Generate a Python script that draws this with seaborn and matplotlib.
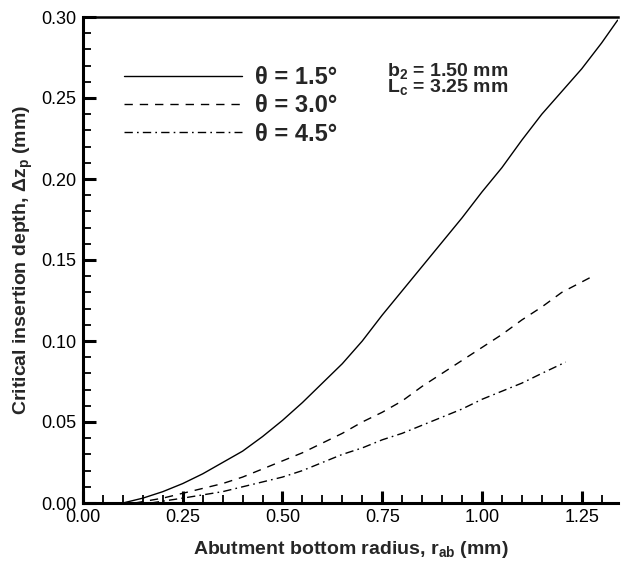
import numpy as np
import pandas as pd
import matplotlib
matplotlib.use("Agg")
import matplotlib.pyplot as plt
from matplotlib.ticker import MultipleLocator, FormatStrFormatter
import seaborn as sns

# ---- data ----
x_15 = [0.10, 0.15, 0.20, 0.25, 0.30, 0.35, 0.40, 0.45, 0.50, 0.55, 0.60, 0.65, 0.70,
        0.75, 0.80, 0.85, 0.90, 0.95, 1.00, 1.05, 1.10, 1.15, 1.20, 1.25, 1.30, 1.34]
y_15 = [0.000, 0.003, 0.007, 0.012, 0.018, 0.025, 0.032, 0.041, 0.051, 0.062, 0.074, 0.086, 0.100,
        0.116, 0.131, 0.146, 0.161, 0.176, 0.192, 0.207, 0.224, 0.240, 0.254, 0.268, 0.284, 0.298]
x_30 = [0.13, 0.20, 0.25, 0.30, 0.35, 0.40, 0.45, 0.50, 0.55, 0.60, 0.65, 0.70, 0.75,
        0.80, 0.85, 0.90, 0.95, 1.00, 1.05, 1.10, 1.15, 1.20, 1.27]
y_30 = [0.000, 0.003, 0.006, 0.009, 0.012, 0.016, 0.021, 0.026, 0.031, 0.037, 0.043, 0.050, 0.056,
        0.063, 0.072, 0.080, 0.088, 0.096, 0.104, 0.113, 0.121, 0.130, 0.139]
x_45 = [0.17, 0.25, 0.30, 0.35, 0.40, 0.45, 0.50, 0.55, 0.60, 0.65, 0.70, 0.75, 0.80,
        0.85, 0.90, 0.95, 1.00, 1.05, 1.10, 1.15, 1.21]
y_45 = [0.000, 0.003, 0.005, 0.007, 0.010, 0.013, 0.016, 0.020, 0.025, 0.030, 0.034, 0.039, 0.043,
        0.048, 0.053, 0.058, 0.064, 0.069, 0.074, 0.080, 0.087]
series_labels = ["θ = 1.5°", "θ = 3.0°", "θ = 4.5°"]
x_ticks = [0.00, 0.25, 0.50, 0.75, 1.00, 1.25]
y_ticks = [0.00, 0.05, 0.10, 0.15, 0.20, 0.25, 0.30]

df = pd.concat([
    pd.DataFrame({"r": x_15, "dz": y_15, "theta": series_labels[0]}),
    pd.DataFrame({"r": x_30, "dz": y_30, "theta": series_labels[1]}),
    pd.DataFrame({"r": x_45, "dz": y_45, "theta": series_labels[2]}),
], ignore_index=True)

sns.set_theme(style="ticks")
plt.rcParams["font.family"] = ["Liberation Sans", "DejaVu Sans"]
plt.rcParams["mathtext.fontset"] = "custom"
plt.rcParams["mathtext.rm"] = "Liberation Sans"
plt.rcParams["mathtext.bf"] = "Liberation Sans:bold"
plt.rcParams["mathtext.it"] = "Liberation Sans:italic"

fig = plt.figure(figsize=(6.21, 5.67), dpi=100)
ax = fig.add_axes([83 / 621, 1 - 503 / 567, 535 / 621, 486 / 567])

dashes = {series_labels[0]: "", series_labels[1]: (6, 5), series_labels[2]: (6, 3, 1.2, 3)}
sns.lineplot(data=df, x="r", y="dz", style="theta", dashes=dashes, color="black",
             linewidth=1.0, ax=ax, sort=False, estimator=None, legend=True)

ax.set_xlim(0, 1.341)
ax.set_ylim(0, 0.30)
ax.set_xticks(x_ticks)
ax.set_yticks(y_ticks)
ax.xaxis.set_major_formatter(FormatStrFormatter("%.2f"))
ax.yaxis.set_major_formatter(FormatStrFormatter("%.2f"))
ax.xaxis.set_minor_locator(MultipleLocator(0.05))
ax.yaxis.set_minor_locator(MultipleLocator(0.01))
ax.tick_params(which="major", direction="in", length=9, width=2.2, labelsize=13,
               color="black", labelcolor="black")
ax.tick_params(which="minor", direction="in", length=6, width=1.3, color="black")
ax.tick_params(axis="y", which="major", pad=5)
ax.tick_params(axis="x", which="major", pad=4)

for side in ["left", "bottom"]:
    ax.spines[side].set_linewidth(2.2)
    ax.spines[side].set_color("black")
ax.spines["top"].set_linewidth(1.8)
ax.spines["top"].set_color("black")
ax.spines["top"].set_visible(True)
ax.spines["right"].set_visible(False)

ax.set_xlabel(r"Abutment bottom radius, r$_{\mathbf{ab}}$ (mm)", fontsize=14,
              fontweight="bold", labelpad=10)
ax.set_ylabel(r"Critical insertion depth, Δz$_{\mathbf{p}}$ (mm)", fontsize=14,
              fontweight="bold", labelpad=4)

handles, labels = ax.get_legend_handles_labels()
ax.legend(handles, labels, loc="upper left",
          bbox_to_anchor=(110 / 621 - 0.012, 1 - 45 / 567),
          bbox_transform=fig.transFigure, frameon=False, handlelength=5.0,
          handletextpad=0.55, labelspacing=0.22,
          prop={"weight": "bold", "size": 17})

fig.text(387 / 621, 1 - 79 / 567, "b$_\\mathbf{2}$ = 1.50 mm\nL$_\\mathbf{c}$ = 3.25 mm",
         fontsize=14, fontweight="bold", ha="left", va="center", linespacing=0.75)

fig.savefig("out.png", dpi=100)
